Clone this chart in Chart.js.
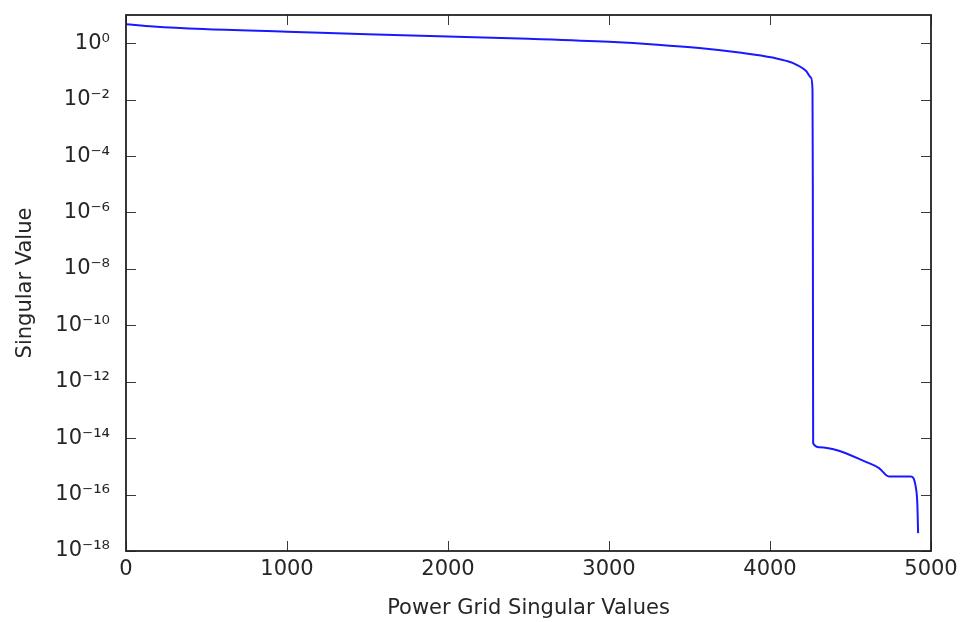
<!DOCTYPE html>
<html>
<head>
<meta charset="utf-8">
<script src="https://cdn.jsdelivr.net/npm/chart.js@4/dist/chart.umd.min.js"></script>
<style>
html,body{margin:0;padding:0;background:#fff;}
canvas{display:block;}
</style>
</head>
<body>
<canvas id="c" width="964" height="622"></canvas>
<script>
// ---- data ----
const indexValues = [0, 170, 480, 1000, 1500, 2000, 2500, 3000, 3300, 3560, 3809, 4016, 4140, 4223, 4254, 4264, 4266, 4268, 4305, 4615, 4677, 4739, 4874, 4905, 4915, 4920];
const singularValues = [4.68, 3.89, 3.16, 2.57, 2.09, 1.74, 1.43, 1.12, 0.89, 0.68, 0.47, 0.31, 0.20, 0.105, 0.060, 0.023, 1e-5, 6.6e-15, 4.8e-15, 1.3e-15, 8.7e-16, 4.4e-16, 4.4e-16, 1.9e-16, 4.9e-17, 4.3e-18];
const xTickValues = [0, 1000, 2000, 3000, 4000, 5000];
const yTickValues = [1e-18, 1e-16, 1e-14, 1e-12, 1e-10, 1e-8, 1e-6, 1e-4, 1e-2, 1e0];
const yTickLabels = ['10⁻¹⁸', '10⁻¹⁶', '10⁻¹⁴', '10⁻¹²', '10⁻¹⁰', '10⁻⁸', '10⁻⁶', '10⁻⁴', '10⁻²', '10⁰'];
const xTitle = 'Power Grid Singular Values';
const yTitle = 'Singular Value';

const points = indexValues.map((x, i) => ({x: x, y: singularValues[i]}));
const FONT = 'DejaVu Sans';
const TXT = '#262626';

const frameAndTicks = {
  id: 'frameAndTicks',
  afterDatasetsDraw(chart) {
    const {ctx, chartArea: a, scales} = chart;
    ctx.save();
    ctx.strokeStyle = '#3a3a3a';
    ctx.lineWidth = 1;
    const tl = 10;
    scales.x.ticks.forEach(t => {
      const px = Math.round(scales.x.getPixelForValue(t.value)) + 0.5;
      ctx.beginPath();
      ctx.moveTo(px, a.bottom); ctx.lineTo(px, a.bottom - tl);
      ctx.moveTo(px, a.top); ctx.lineTo(px, a.top + tl);
      ctx.stroke();
    });
    scales.y.ticks.forEach(t => {
      const py = Math.round(scales.y.getPixelForValue(t.value)) + 0.5;
      ctx.beginPath();
      ctx.moveTo(a.left, py); ctx.lineTo(a.left + tl, py);
      ctx.moveTo(a.right, py); ctx.lineTo(a.right - tl, py);
      ctx.stroke();
    });
    ctx.strokeStyle = '#222';
    ctx.lineWidth = 1.8;
    ctx.strokeRect(a.left, a.top, a.right - a.left, a.bottom - a.top);
    ctx.restore();
  }
};

new Chart(document.getElementById('c'), {
  type: 'line',
  data: {
    datasets: [{
      data: points,
      borderColor: 'rgb(25,25,255)',
      borderWidth: 2,
      pointRadius: 0,
      fill: false,
      cubicInterpolationMode: 'monotone'
    }]
  },
  options: {
    responsive: false,
    animation: false,
    devicePixelRatio: 1,
    layout: {padding: {top: 15, right: 33, left: 0, bottom: 0}},
    plugins: {legend: {display: false}, tooltip: {enabled: false}},
    scales: {
      x: {
        type: 'linear',
        min: 0, max: 5000,
        afterBuildTicks: s => { s.ticks = xTickValues.map(v => ({value: v})); },
        afterFit: s => { s.height = 71; s.paddingLeft = 0; s.paddingRight = 0; },
        grid: {display: false, drawTicks: false},
        border: {display: false},
        ticks: {
          color: TXT, font: {family: FONT, size: 21}, padding: 6, maxRotation: 0,
          callback: v => String(v)
        },
        title: {display: true, text: xTitle, color: TXT, font: {family: FONT, size: 21}, padding: {top: 0, bottom: 1}}
      },
      y: {
        type: 'logarithmic',
        min: 1e-18, max: 10,
        afterBuildTicks: s => { s.ticks = yTickValues.map(v => ({value: v})); },
        afterFit: s => { s.width = 126; s.paddingTop = 0; s.paddingBottom = 0; },
        grid: {display: false, drawTicks: false},
        border: {display: false},
        ticks: {
          color: TXT, font: {family: FONT, size: 21}, padding: 16,
          callback: (v) => { const i = yTickValues.indexOf(v); return i >= 0 ? yTickLabels[i] : ''; }
        },
        title: {display: true, text: yTitle, color: TXT, font: {family: FONT, size: 21}, padding: {top: 13, bottom: 0}}
      }
    }
  },
  plugins: [frameAndTicks]
});
</script>
</body>
</html>
